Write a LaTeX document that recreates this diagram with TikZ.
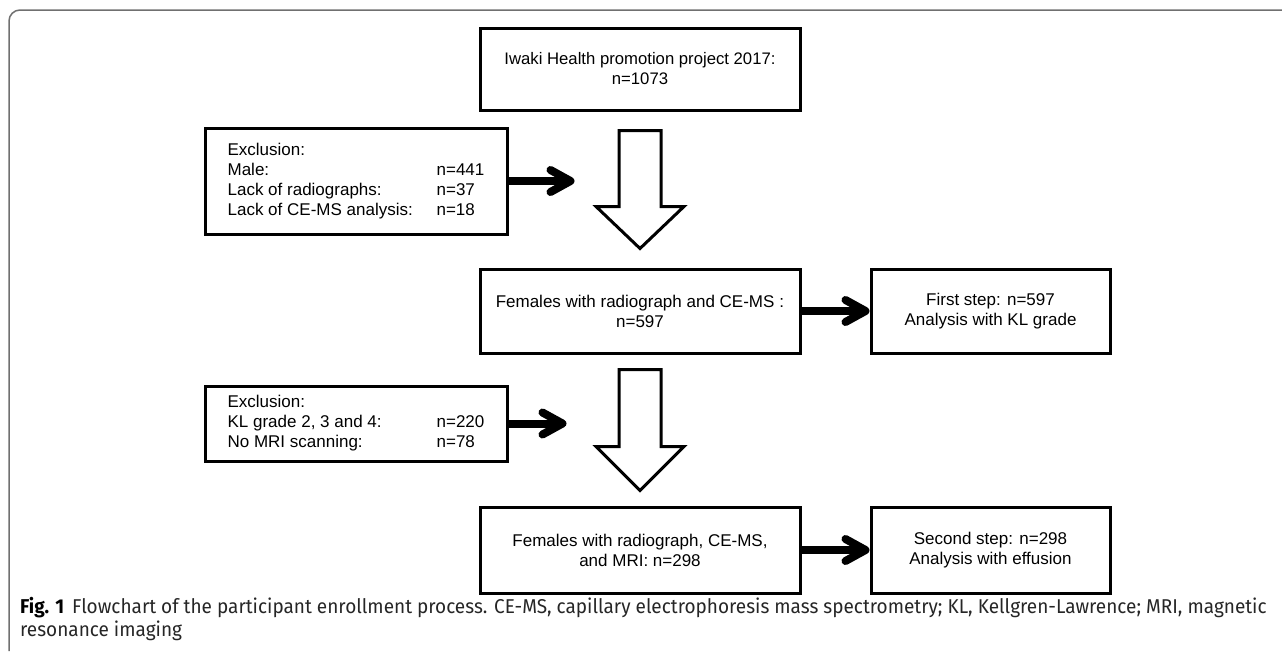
\documentclass[tikz,border=0pt]{standalone}
\usepackage{fontspec}
\setmainfont{Liberation Sans}
\newfontfamily\capfont{Fira Sans}[FakeStretch=0.95]
\usetikzlibrary{arrows.meta, positioning, math, calc}
\definecolor{FrameGray}{RGB}{112,112,112}

\begin{document}
\begin{tikzpicture}[x=1pt, y=-1pt]
		\tikzmath{
			\boxW   = 320;   %main box width
			\boxH   = 84;    %main box height
			\sideW  = 239;   %result box width
			\exclW  = 302;   %exclusion box width
			\colGap = 68;    %gap between main box and result box
		}
		\tikzstyle{Base} = [
			draw=black,
			line width=3pt,
			inner sep=0pt,
			font=\fontsize{17}{20}\selectfont
		]
		\tikzstyle{MainBox} = [
			Base,
			align=center,
			minimum width=\boxW pt,
			minimum height=\boxH pt
		]
		\tikzstyle{SideBox} = [
			Base,
			align=center,
			minimum width=\sideW pt,
			minimum height=\boxH pt
		]
		\tikzstyle{ExclBox} = [
			Base,
			minimum width=\exclW pt
		]
		\tikzstyle{Hollow} = [
			draw=black,
			line width=3pt,
			fill=white
		]
		\tikzstyle{Link} = [
			line width=8pt,
			-{Straight Barb[length=20pt, width=22pt, round]}
		]
		\useasboundingbox (0,0) rectangle (1282,651);
		\draw [FrameGray, line width=1.5pt, rounded corners=11pt] (9,651) -- (9,10) -- (1282,10);
		%%%%%%%%%%%%%%%%%%%%%%%%%%===---MAIN COLUMN---===%%%%%%%%%%%%%%%%%%%%%%%%%%
		\node (project) [MainBox, minimum height=82pt, font=\fontsize{16.7}{20}\selectfont] at (640,69) {Iwaki Health promotion project 2017:\\n=1073};
		\node (females1) [MainBox, below = 156pt of project] {Females with radiograph and CE-MS\hspace{5pt}:\\n=597};
		\node (females2) [MainBox, minimum height=86pt, below = 151pt of females1] {Females with radiograph, CE-MS,\\and MRI: n=298};
		%%%%%%%%%%%%%%%%%%%%%%%%%%===---RESULT BOXES---===%%%%%%%%%%%%%%%%%%%%%%%%%%
		\node (firststep) [SideBox, right = \colGap pt of females1] {First step: n=597\\Analysis with KL grade};
		\node (secondstep) [SideBox, minimum height=86pt, right = \colGap pt of females2] {Second step: n=298\\Analysis with effusion};
		\draw [Link] (females1) -- (firststep);
		\draw [Link] (females2) -- (secondstep);
		%%%%%%%%%%%%%%%%%%%%%%%%%%===---EXCLUSIONS---===%%%%%%%%%%%%%%%%%%%%%%%%%%
		\node (excl1) [ExclBox, minimum height=106pt] at (356,181) {%
			\begin{tabular}{@{}p{209pt}@{}l@{}}
				Exclusion: & \\
				Male: & n=441\\
				Lack of radiographs: & n=37\\
				Lack of CE-MS analysis: & n=18
			\end{tabular}};
		\node (excl2) [ExclBox, minimum height=75pt] at (356,423.5) {%
			\begin{tabular}{@{}p{209pt}@{}l@{}}
				Exclusion: & \\
				KL grade 2, 3 and 4: & n=220\\
				No MRI scanning: & n=78
			\end{tabular}};
		\coordinate (in1) at ($(excl1.east)+(66,0)$);
		\coordinate (in2) at ($(excl2.east)+(58,0)$);
		\draw [Link] (excl1) -- (in1);
		\draw [Link] (excl2) -- (in2);
		%%%%%%%%%%%%%%%%%%%%%%%%%%===---HOLLOW ARROWS---===%%%%%%%%%%%%%%%%%%%%%%%%%%
		\draw [Hollow] ($(project.south)+(-21,19)$) -- ++(0,76) -- ++(-23,0)
			-- ($(females1.north)+(0,-19)$) -- ($(project.south)+(44,95)$) -- ++(-23,0)
			-- ($(project.south)+(21,19)$) -- cycle;
		\draw [Hollow] ($(females1.south)+(-21,15)$) -- ++(0,77) -- ++(-23,0)
			-- ($(females2.north)+(0,-15)$) -- ($(females1.south)+(44,92)$) -- ++(-23,0)
			-- ($(females1.south)+(21,15)$) -- cycle;
		%%%%%%%%%%%%%%%%%%%%%%%%%%===---CAPTION---===%%%%%%%%%%%%%%%%%%%%%%%%%%
		\node (caption) [anchor=north west, align=left, inner sep=0pt, text=black!85,
			font=\capfont\fontsize{20}{23}\selectfont] at (20,597)
			{\textbf{\color{black}Fig. 1}\hspace{8pt}Flowchart of the participant enrollment process. CE-MS, capillary electrophoresis mass spectrometry; KL, Kellgren-Lawrence; MRI, magnetic\\resonance imaging};
\end{tikzpicture}
\end{document}
